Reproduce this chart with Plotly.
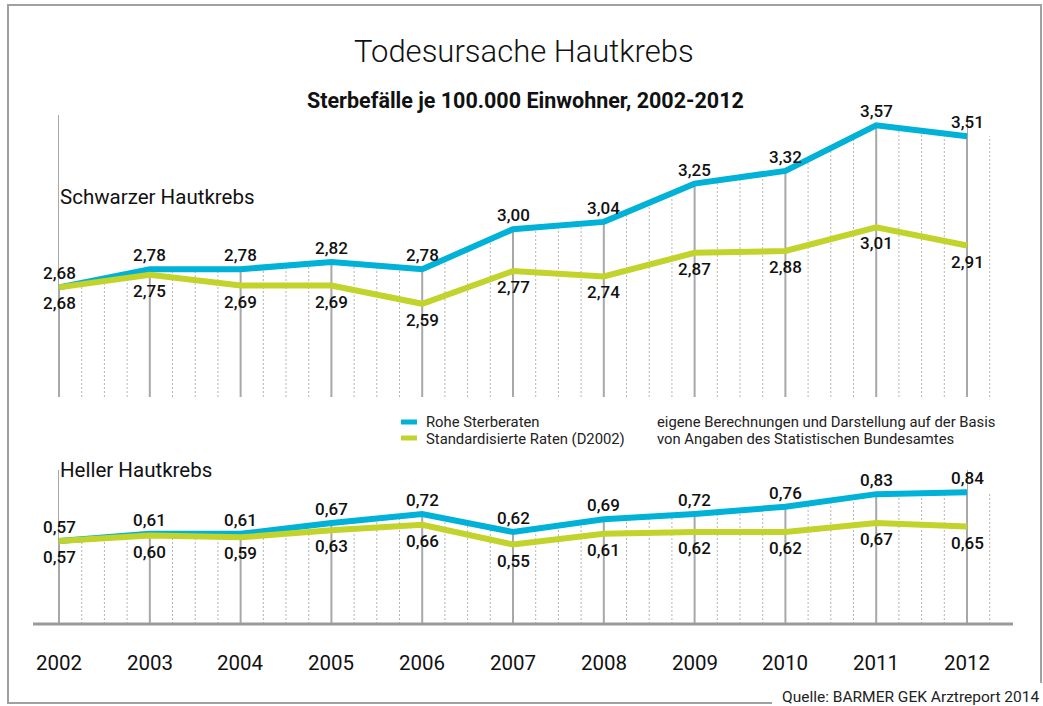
import plotly.graph_objects as go

years = list(range(2002, 2013))
schwarz_roh = [2.68, 2.78, 2.78, 2.82, 2.78, 3.00, 3.04, 3.25, 3.32, 3.57, 3.51]
schwarz_std = [2.68, 2.75, 2.69, 2.69, 2.59, 2.77, 2.74, 2.87, 2.88, 3.01, 2.91]
hell_roh = [0.57, 0.61, 0.61, 0.67, 0.72, 0.62, 0.69, 0.72, 0.76, 0.83, 0.84]
hell_std = [0.57, 0.60, 0.59, 0.63, 0.66, 0.55, 0.61, 0.62, 0.62, 0.67, 0.65]

W, H = 1043, 706
BLUE = "#00b1d8"
GREEN = "#c2d32c"
GRID = "#a8a8a8"
FONT = "Roboto"

def px_x(x):
    return x / W

def px_y(y):
    return 1 - y / H

def fmt(v):
    return f"{v:.2f}".replace(".", ",")

# axis ranges chosen so the panels sit where they are in the original
upper_range = [2.078, 3.627]
lower_range = [0.109, 0.964]

fig = go.Figure()

panels = [
    ("y", upper_range, schwarz_roh, schwarz_std),
    ("y2", lower_range, hell_roh, hell_std),
]

shapes = []
annotations = []

for yax, rng, roh, std in panels:
    # white mask above the blue line hides the grid lines there
    fig.add_trace(go.Scatter(x=years, y=[rng[1]] * len(years), yaxis=yax, mode="lines",
                             line=dict(width=0, color="white"), hoverinfo="skip", showlegend=False))
    fig.add_trace(go.Scatter(x=years, y=roh, yaxis=yax, mode="lines", fill="tonexty", fillcolor="white",
                             line=dict(color=BLUE, width=6), showlegend=False))
    fig.add_trace(go.Scatter(x=years, y=std, yaxis=yax, mode="lines",
                             line=dict(color=GREEN, width=6), showlegend=False))

    for yr in years:
        for k in range(4):
            if yr == years[-1] and k > 1:
                continue
            x = yr + k / 4
            top = rng[1] if not (yr == years[-1] and k == 1) else roh[-1]
            if k == 0:
                line = dict(color=GRID, width=2)
            else:
                line = dict(color="#b4b4b4", width=1, dash="2px,2px")
            shapes.append(dict(type="line", xref="x", yref=yax, x0=x, x1=x, y0=rng[0], y1=top,
                               line=line, layer="below"))

    for x, v in zip(years, roh):
        annotations.append(dict(x=x, y=v, xref="x", yref=yax, text=fmt(v), showarrow=False,
                                yshift=14, font=dict(family=FONT, size=17, color="#111", weight=500)))
    for x, v in zip(years, std):
        annotations.append(dict(x=x, y=v, xref="x", yref=yax, text=fmt(v), showarrow=False,
                                yshift=-16, font=dict(family=FONT, size=17, color="#111", weight=500)))

# baseline of the lower panel
shapes.append(dict(type="line", xref="paper", yref="paper", x0=px_x(33), x1=px_x(1013),
                   y0=px_y(624), y1=px_y(624), line=dict(color="#9a9a9a", width=3)))

# frame
frame = [(772, 703), (8, 703), (8, 5), (1041, 5), (1041, 683)]
path = "M " + " L ".join(f"{px_x(a):.5f},{px_y(b):.5f}" for a, b in frame)
shapes.append(dict(type="path", xref="paper", yref="paper", path=path,
                   line=dict(color="#a0a0a0", width=2)))

# legend swatches
for yy, col in [(422, BLUE), (438, GREEN)]:
    shapes.append(dict(type="line", xref="paper", yref="paper", x0=px_x(401), x1=px_x(417),
                       y0=px_y(yy), y1=px_y(yy), line=dict(color=col, width=5)))

def text(x, y, s, size, anchor="left", weight=400, color="#111"):
    annotations.append(dict(x=px_x(x), y=px_y(y), xref="paper", yref="paper", text=s,
                            showarrow=False, xanchor=anchor, yanchor="middle",
                            font=dict(family=FONT, size=size, color=color, weight=weight)))

text(524, 52, "Todesursache Hautkrebs", 31, "center", 300)
text(525, 100, "Sterbefälle je 100.000 Einwohner, 2002-2012", 21.5, "center", 700)
text(58, 197, "Schwarzer Hautkrebs", 20.5)
text(58, 470, "Heller Hautkrebs", 20.5)
text(424, 422, "Rohe Sterberaten", 14.8, color="#222")
text(424, 439, "Standardisierte Raten (D2002)", 14.8, color="#222")
text(655, 422, "eigene Berechnungen und Darstellung auf der Basis", 14.8, color="#222")
text(655, 439, "von Angaben des Statistischen Bundesamtes", 14.8, color="#222")
text(1041, 697, "Quelle: BARMER GEK Arztreport 2014", 15.5, "right", color="#222")

for yr in years:
    annotations.append(dict(x=yr, y=px_y(663), xref="x", yref="paper", text=str(yr), showarrow=False,
                            yanchor="middle", font=dict(family=FONT, size=20.5, color="#111")))

fig.update_layout(
    width=W, height=H,
    margin=dict(l=0, r=0, t=0, b=0),
    paper_bgcolor="white", plot_bgcolor="white",
    xaxis=dict(range=[2001.350, 2012.837], domain=[0, 1], visible=False, fixedrange=True),
    yaxis=dict(range=upper_range, domain=[px_y(397), px_y(115)], visible=False, anchor="x"),
    yaxis2=dict(range=lower_range, domain=[px_y(624), px_y(470)], visible=False, anchor="x"),
    shapes=shapes,
    annotations=annotations,
    showlegend=False,
)

fig.write_html("out.html", config={"displayModeBar": False},
               post_script="document.body.style.margin='0';")
